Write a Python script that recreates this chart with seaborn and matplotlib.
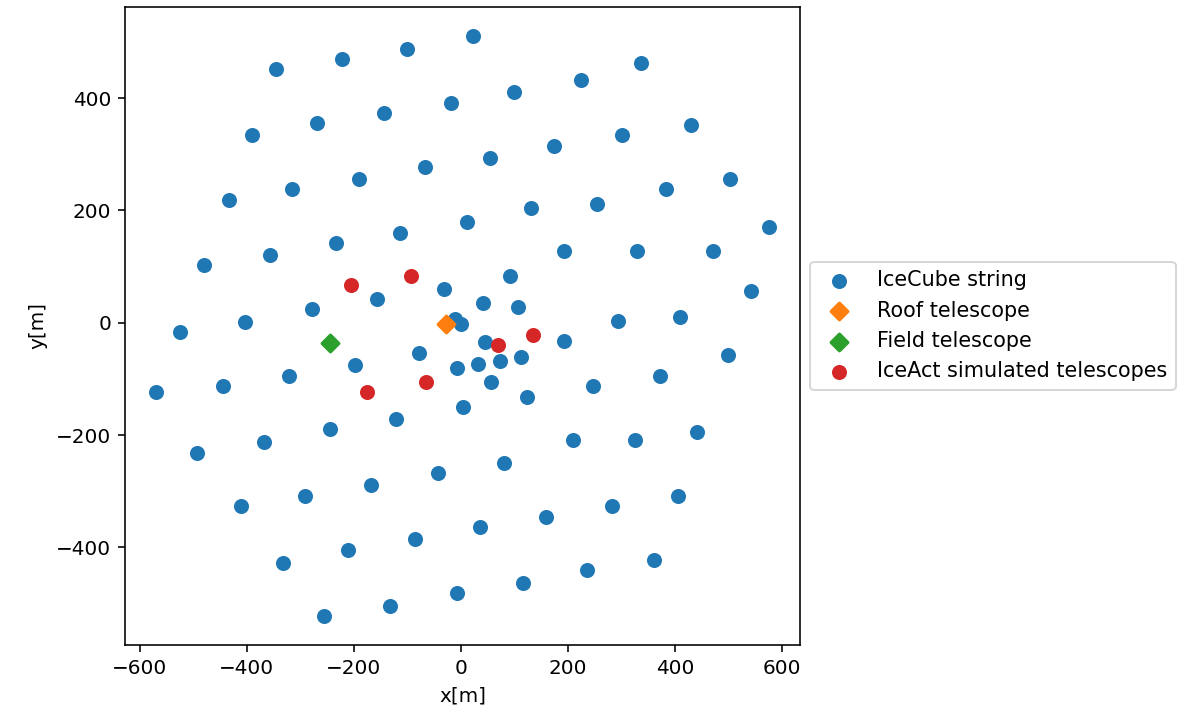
import matplotlib
matplotlib.use("Agg")
import matplotlib.pyplot as plt
import seaborn as sns
import numpy as np

# IceCube string positions
string_x = [-345, -222, -101, 22, -391, -268, -144, -18, -434, -315, -191, -67, 11,
            -480, -357, -233, -113, -31, -156, -279, -403, -524, -11, 0,
            336, 224, 100, 429, 301, 174, 54, 503, 383, 255, 131, 576, 471, 329, 193,
            92, 541, 409, 294, 42, 107,
            45, 193, 499, -8, 31, 73, 112, 57, 123, 247, 371, 3, 441, 325, 209, 81,
            406, 282, 158, 35, 360, 236, 116, -8,
            -78, -198, -321, -445, -570, -121, -244, -368, -493, -43, -167, -291, -411,
            -86, -210, -333, -133, -256]
string_y = [452, 470, 488, 511, 334, 356, 373, 392, 219, 238, 256, 278, 179,
            102, 120, 142, 160, 60, 43, 24, 1, -17, 6, -3,
            462, 433, 411, 352, 334, 315, 293, 256, 238, 212, 204, 171, 127, 127, 127,
            83, 57, 11, 4, 35, 28,
            -35, -32, -58, -80, -73, -68, -61, -106, -132, -113, -94, -150, -194, -209, -209, -249,
            -308, -327, -346, -363, -423, -440, -463, -481,
            -53, -76, -95, -113, -123, -172, -190, -212, -231, -267, -289, -308, -327,
            -385, -404, -427, -504, -522]

roof_x = [-28]
roof_y = [-3]

field_x = [-245]
field_y = [-36]

iceact_x = [-206, -94, -66, -175, 69, 135]
iceact_y = [68, 83, -106, -123, -39, -21]

labels = ["IceCube string", "Roof telescope", "Field telescope", "IceAct simulated telescopes"]
colors = ["#1f77b4", "#ff7f0e", "#2ca02c", "#d62728"]
markers = ["o", "D", "D", "o"]

fig = plt.figure(figsize=(1182 / 144, 715 / 144), dpi=144)
ax = fig.add_axes([0.1058, 0.0979, 0.5710, 0.8927])

series = [(string_x, string_y), (roof_x, roof_y), (field_x, field_y), (iceact_x, iceact_y)]
for (xs, ys), lab, col, mk in zip(series, labels, colors, markers):
    sns.scatterplot(x=xs, y=ys, ax=ax, color=col, marker=mk, s=36,
                    edgecolor="face", linewidth=1.5, label=lab)

ax.set_xlabel("x[m]")
ax.set_ylabel("y[m]")
ax.legend(loc="center left", bbox_to_anchor=(1, 0.5), fontsize=10.4)

fig.savefig("out.png", dpi=144)
